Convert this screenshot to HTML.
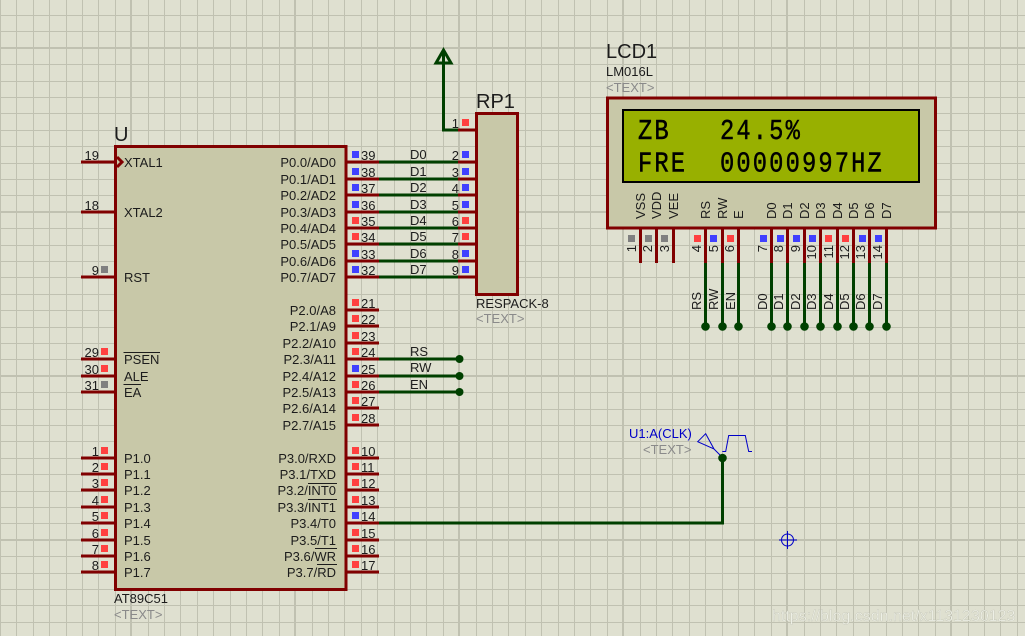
<!DOCTYPE html>
<html><head><meta charset="utf-8"><title>AT89C51 schematic</title>
<style>
html,body{margin:0;padding:0;background:#dfe0d0;width:1025px;height:636px;overflow:hidden}
svg{display:block}
text{font-family:"Liberation Sans",Arial,sans-serif;font-size:13px;fill:#1c1c1c}
.e{text-anchor:end}
.g{fill:#8a8a8a}
.t{font-size:20px}
.l{font-family:"Liberation Mono",monospace;font-size:29px;letter-spacing:2.6px;fill:#000;stroke:#000;stroke-width:.5}
</style></head><body>
<svg width="1025" height="636" viewBox="0 0 1025 636" xmlns="http://www.w3.org/2000/svg">
<rect width="1025" height="636" fill="#dfe0d0"/>
<!-- grid -->
<path shape-rendering="crispEdges" fill="none" stroke="#c0c1b1" stroke-width="1" d="M0.5 0V636M16.5 0V636M33.5 0V636M49.5 0V636M66.5 0V636M82.5 0V636M98.5 0V636M115.5 0V636M148.5 0V636M164.5 0V636M180.5 0V636M197.5 0V636M213.5 0V636M230.5 0V636M246.5 0V636M262.5 0V636M279.5 0V636M312.5 0V636M328.5 0V636M344.5 0V636M361.5 0V636M377.5 0V636M394.5 0V636M410.5 0V636M426.5 0V636M443.5 0V636M476.5 0V636M492.5 0V636M508.5 0V636M525.5 0V636M541.5 0V636M558.5 0V636M574.5 0V636M590.5 0V636M607.5 0V636M640.5 0V636M656.5 0V636M672.5 0V636M689.5 0V636M705.5 0V636M722.5 0V636M738.5 0V636M754.5 0V636M771.5 0V636M804.5 0V636M820.5 0V636M836.5 0V636M853.5 0V636M869.5 0V636M886.5 0V636M902.5 0V636M918.5 0V636M935.5 0V636M968.5 0V636M984.5 0V636M1000.5 0V636M1017.5 0V636M0 15.5H1025M0 31.5H1025M0 64.5H1025M0 81.5H1025M0 97.5H1025M0 113.5H1025M0 130.5H1025M0 146.5H1025M0 163.5H1025M0 179.5H1025M0 195.5H1025M0 228.5H1025M0 245.5H1025M0 261.5H1025M0 277.5H1025M0 294.5H1025M0 310.5H1025M0 327.5H1025M0 343.5H1025M0 359.5H1025M0 392.5H1025M0 409.5H1025M0 425.5H1025M0 441.5H1025M0 458.5H1025M0 474.5H1025M0 491.5H1025M0 507.5H1025M0 523.5H1025M0 556.5H1025M0 573.5H1025M0 589.5H1025M0 605.5H1025M0 622.5H1025"/>
<path shape-rendering="crispEdges" fill="none" stroke="#c0c1b1" stroke-width="2" d="M131 0V636M295 0V636M459 0V636M623 0V636M787 0V636M951 0V636M0 48H1025M0 212H1025M0 376H1025M0 540H1025"/>

<!-- bodies -->
<rect x="115.5" y="146.5" width="230.5" height="443" fill="#c8c8a8" stroke="#800000" stroke-width="3"/>
<rect x="476.5" y="113.5" width="41" height="181" fill="#c8c8a8" stroke="#800000" stroke-width="3"/>
<rect x="607.5" y="98" width="328" height="130" fill="#c8c8a8" stroke="#800000" stroke-width="3"/>
<rect x="623" y="110" width="296" height="72" fill="#98b000" stroke="#000" stroke-width="2"/>

<!-- green wires -->
<g fill="none" stroke="#004000" stroke-width="3">
<path d="M458 130H443.5V52"/>
<path d="M443.5 50L436 63H451Z"/>
<path d="M379 162H458M379 179H458M379 195H458M379 212H458M379 228H458M379 244H458M379 261H458M379 277H458"/>
<path d="M379 359H459M379 376H459M379 392H459"/>
<path d="M379 523H722.5V458"/>
<path d="M705.5 262V326M722.5 262V326M738.5 262V326M771.5 262V326M787.5 262V326M804.5 262V326M820.5 262V326M837.5 262V326M853.5 262V326M869.5 262V326M886.5 262V326"/>
</g>
<g fill="#004000">
<circle cx="459.5" cy="359" r="4"/><circle cx="459.5" cy="376" r="4"/><circle cx="459.5" cy="392" r="4"/>
<circle cx="722.5" cy="458" r="4.3"/>
<circle cx="705.5" cy="326.5" r="4.3"/><circle cx="722.5" cy="326.5" r="4.3"/><circle cx="738.5" cy="326.5" r="4.3"/><circle cx="771.5" cy="326.5" r="4.3"/><circle cx="787.5" cy="326.5" r="4.3"/><circle cx="804.5" cy="326.5" r="4.3"/><circle cx="820.5" cy="326.5" r="4.3"/><circle cx="837.5" cy="326.5" r="4.3"/><circle cx="853.5" cy="326.5" r="4.3"/><circle cx="869.5" cy="326.5" r="4.3"/><circle cx="886.5" cy="326.5" r="4.3"/>
</g>

<!-- red pins -->
<g fill="none" stroke="#800000" stroke-width="3">
<path d="M81 162H115M81 212H115M81 277H115M81 359H115M81 376H115M81 392H115M81 458H115M81 474H115M81 490H115M81 507H115M81 523H115M81 540H115M81 556H115M81 572H115"/>
<path d="M346 162H379M346 179H379M346 195H379M346 212H379M346 228H379M346 244H379M346 261H379M346 277H379M346 310H379M346 326H379M346 343H379M346 359H379M346 376H379M346 392H379M346 408H379M346 425H379M346 458H379M346 474H379M346 490H379M346 507H379M346 523H379M346 540H379M346 556H379M346 572H379"/>
<path d="M458 130H476M458 162H476M458 179H476M458 195H476M458 212H476M458 228H476M458 244H476M458 261H476M458 277H476"/>
<path d="M640.5 228V263M656.5 228V263M673.5 228V263M705.5 228V263M722.5 228V263M738.5 228V263M771.5 228V263M787.5 228V263M804.5 228V263M820.5 228V263M837.5 228V263M853.5 228V263M869.5 228V263M886.5 228V263"/>
<path d="M117 157L122 162L117 167"/>
</g>

<!-- state squares -->
<path fill="#4040ff" d="M352 151h7v7h-7zM352 168h7v7h-7zM352 184h7v7h-7zM352 201h7v7h-7zM352 250h7v7h-7zM352 266h7v7h-7zM352 365h7v7h-7zM352 512h7v7h-7zM462 151h7v7h-7zM462 168h7v7h-7zM462 184h7v7h-7zM462 201h7v7h-7zM462 250h7v7h-7zM462 266h7v7h-7zM710 235h7v7h-7zM760 235h7v7h-7zM777 235h7v7h-7zM793 235h7v7h-7zM809 235h7v7h-7zM859 235h7v7h-7zM875 235h7v7h-7z"/>
<path fill="#ff4040" d="M352 217h7v7h-7zM352 233h7v7h-7zM352 299h7v7h-7zM352 315h7v7h-7zM352 332h7v7h-7zM352 348h7v7h-7zM352 381h7v7h-7zM352 397h7v7h-7zM352 414h7v7h-7zM352 447h7v7h-7zM352 463h7v7h-7zM352 479h7v7h-7zM352 496h7v7h-7zM352 529h7v7h-7zM352 545h7v7h-7zM352 561h7v7h-7zM101 348h7v7h-7zM101 365h7v7h-7zM101 447h7v7h-7zM101 463h7v7h-7zM101 479h7v7h-7zM101 496h7v7h-7zM101 512h7v7h-7zM101 529h7v7h-7zM101 545h7v7h-7zM101 561h7v7h-7zM462 119h7v7h-7zM462 217h7v7h-7zM462 233h7v7h-7zM694 235h7v7h-7zM727 235h7v7h-7zM825 235h7v7h-7zM842 235h7v7h-7z"/>
<path fill="#808080" d="M101 266h7v7h-7zM101 381h7v7h-7zM628 235h7v7h-7zM645 235h7v7h-7zM661 235h7v7h-7z"/>

<!-- titles -->
<text class="t" x="114" y="141">U</text>
<text class="t" x="476" y="108">RP1</text>
<text class="t" x="606" y="58">LCD1</text>
<text x="606" y="76">LM016L</text>
<text class="g" x="606" y="92">&lt;TEXT&gt;</text>
<text x="476" y="308">RESPACK-8</text>
<text class="g" x="476" y="323">&lt;TEXT&gt;</text>
<text x="114" y="603">AT89C51</text>
<text class="g" x="114" y="619">&lt;TEXT&gt;</text>

<!-- U left labels -->
<text x="124" y="167">XTAL1</text><text x="124" y="217">XTAL2</text><text x="124" y="282">RST</text>
<text x="124" y="364">PSEN</text><text x="124" y="381">ALE</text><text x="124" y="397">EA</text>
<text x="124" y="463">P1.0</text><text x="124" y="479">P1.1</text><text x="124" y="495">P1.2</text><text x="124" y="512">P1.3</text><text x="124" y="528">P1.4</text><text x="124" y="545">P1.5</text><text x="124" y="561">P1.6</text><text x="124" y="577">P1.7</text>
<!-- U right labels -->
<text class="e" x="336" y="167">P0.0/AD0</text><text class="e" x="336" y="184">P0.1/AD1</text><text class="e" x="336" y="200">P0.2/AD2</text><text class="e" x="336" y="217">P0.3/AD3</text><text class="e" x="336" y="233">P0.4/AD4</text><text class="e" x="336" y="249">P0.5/AD5</text><text class="e" x="336" y="266">P0.6/AD6</text><text class="e" x="336" y="282">P0.7/AD7</text>
<text class="e" x="336" y="315">P2.0/A8</text><text class="e" x="336" y="331">P2.1/A9</text><text class="e" x="336" y="348">P2.2/A10</text><text class="e" x="336" y="364">P2.3/A11</text><text class="e" x="336" y="381">P2.4/A12</text><text class="e" x="336" y="397">P2.5/A13</text><text class="e" x="336" y="413">P2.6/A14</text><text class="e" x="336" y="430">P2.7/A15</text>
<text class="e" x="336" y="463">P3.0/RXD</text><text class="e" x="336" y="479">P3.1/TXD</text><text class="e" x="336" y="495">P3.2/INT0</text><text class="e" x="336" y="512">P3.3/INT1</text><text class="e" x="336" y="528">P3.4/T0</text><text class="e" x="336" y="545">P3.5/T1</text><text class="e" x="336" y="561">P3.6/WR</text><text class="e" x="336" y="577">P3.7/RD</text>
<path shape-rendering="crispEdges" stroke="#1c1c1c" fill="none" d="M123.5 352.5H160M123.5 384.5H141M308 483.5H337M308 499.5H337M315 548.5H337M317 564.5H337"/>

<!-- U left pin numbers -->
<text class="e" x="99" y="160">19</text><text class="e" x="99" y="210">18</text><text class="e" x="99" y="275">9</text><text class="e" x="99" y="357">29</text><text class="e" x="99" y="374">30</text><text class="e" x="99" y="390">31</text>
<text class="e" x="99" y="456">1</text><text class="e" x="99" y="472">2</text><text class="e" x="99" y="488">3</text><text class="e" x="99" y="505">4</text><text class="e" x="99" y="521">5</text><text class="e" x="99" y="538">6</text><text class="e" x="99" y="554">7</text><text class="e" x="99" y="570">8</text>
<!-- U right pin numbers -->
<text x="361" y="160">39</text><text x="361" y="177">38</text><text x="361" y="193">37</text><text x="361" y="210">36</text><text x="361" y="226">35</text><text x="361" y="242">34</text><text x="361" y="259">33</text><text x="361" y="275">32</text>
<text x="361" y="308">21</text><text x="361" y="324">22</text><text x="361" y="341">23</text><text x="361" y="357">24</text><text x="361" y="374">25</text><text x="361" y="390">26</text><text x="361" y="406">27</text><text x="361" y="423">28</text>
<text x="361" y="456">10</text><text x="361" y="472">11</text><text x="361" y="488">12</text><text x="361" y="505">13</text><text x="361" y="521">14</text><text x="361" y="538">15</text><text x="361" y="554">16</text><text x="361" y="570">17</text>
<!-- RP1 pin numbers -->
<text class="e" x="459" y="128">1</text><text class="e" x="459" y="160">2</text><text class="e" x="459" y="177">3</text><text class="e" x="459" y="193">4</text><text class="e" x="459" y="210">5</text><text class="e" x="459" y="226">6</text><text class="e" x="459" y="242">7</text><text class="e" x="459" y="259">8</text><text class="e" x="459" y="275">9</text>
<!-- net labels -->
<text x="410" y="159">D0</text><text x="410" y="176">D1</text><text x="410" y="192">D2</text><text x="410" y="209">D3</text><text x="410" y="225">D4</text><text x="410" y="241">D5</text><text x="410" y="258">D6</text><text x="410" y="274">D7</text>
<text x="410" y="356">RS</text><text x="410" y="372">RW</text><text x="410" y="389">EN</text>

<!-- LCD text: 16.4px cell pitch -->
<g transform="translate(638 139) scale(.82 1)"><text class="l" x="0" y="0">ZB</text><text class="l" x="100" y="0">24.5%</text></g>
<g transform="translate(638 171.5) scale(.82 1)"><text class="l" x="0" y="0">FRE</text><text class="l" x="100" y="0">00000997HZ</text></g>

<!-- LCD inner pin names -->
<text transform="translate(645 219) rotate(-90)">VSS</text><text transform="translate(661 219) rotate(-90)">VDD</text><text transform="translate(678 219) rotate(-90)">VEE</text>
<text transform="translate(710 219) rotate(-90)">RS</text><text transform="translate(727 219) rotate(-90)">RW</text><text transform="translate(743 219) rotate(-90)">E</text>
<text transform="translate(776 219) rotate(-90)">D0</text><text transform="translate(792 219) rotate(-90)">D1</text><text transform="translate(809 219) rotate(-90)">D2</text><text transform="translate(825 219) rotate(-90)">D3</text><text transform="translate(842 219) rotate(-90)">D4</text><text transform="translate(858 219) rotate(-90)">D5</text><text transform="translate(874 219) rotate(-90)">D6</text><text transform="translate(891 219) rotate(-90)">D7</text>
<!-- LCD pin numbers -->
<text class="e" transform="translate(636 245) rotate(-90)">1</text><text class="e" transform="translate(652 245) rotate(-90)">2</text><text class="e" transform="translate(669 245) rotate(-90)">3</text><text class="e" transform="translate(701 245) rotate(-90)">4</text><text class="e" transform="translate(718 245) rotate(-90)">5</text><text class="e" transform="translate(734 245) rotate(-90)">6</text><text class="e" transform="translate(767 245) rotate(-90)">7</text><text class="e" transform="translate(783 245) rotate(-90)">8</text><text class="e" transform="translate(800 245) rotate(-90)">9</text><text class="e" transform="translate(816 245) rotate(-90)">10</text><text class="e" transform="translate(833 245) rotate(-90)">11</text><text class="e" transform="translate(849 245) rotate(-90)">12</text><text class="e" transform="translate(865 245) rotate(-90)">13</text><text class="e" transform="translate(882 245) rotate(-90)">14</text>
<!-- LCD outer net labels -->
<text transform="translate(701 310) rotate(-90)">RS</text><text transform="translate(718 310) rotate(-90)">RW</text><text transform="translate(735 310) rotate(-90)">EN</text>
<text transform="translate(767 310) rotate(-90)">D0</text><text transform="translate(783 310) rotate(-90)">D1</text><text transform="translate(800 310) rotate(-90)">D2</text><text transform="translate(816 310) rotate(-90)">D3</text><text transform="translate(833 310) rotate(-90)">D4</text><text transform="translate(849 310) rotate(-90)">D5</text><text transform="translate(865 310) rotate(-90)">D6</text><text transform="translate(882 310) rotate(-90)">D7</text>

<!-- probe -->
<g fill="none" stroke="#0000c8" stroke-width="1">
<path d="M697.7 441.7L705.7 433.7L714 449ZM714 449L720 455"/>
<path d="M722.3 451.5H725.7L728.7 435.5H745.3L748.7 451.5H752"/>
<circle cx="787.5" cy="540" r="6"/>
<path d="M779 540H797M787.5 531V549"/>
</g>
<text x="629" y="438" style="fill:#0000c8">U1:A(CLK)</text>
<text class="g" x="643" y="454">&lt;TEXT&gt;</text>

<!-- watermark -->
<text x="772" y="621" style="font-size:16px;fill:#eef0e6;stroke:#b5b6a8;stroke-width:.25">https://blog.csdn.net/x1131230123</text>
</svg>
</body></html>
